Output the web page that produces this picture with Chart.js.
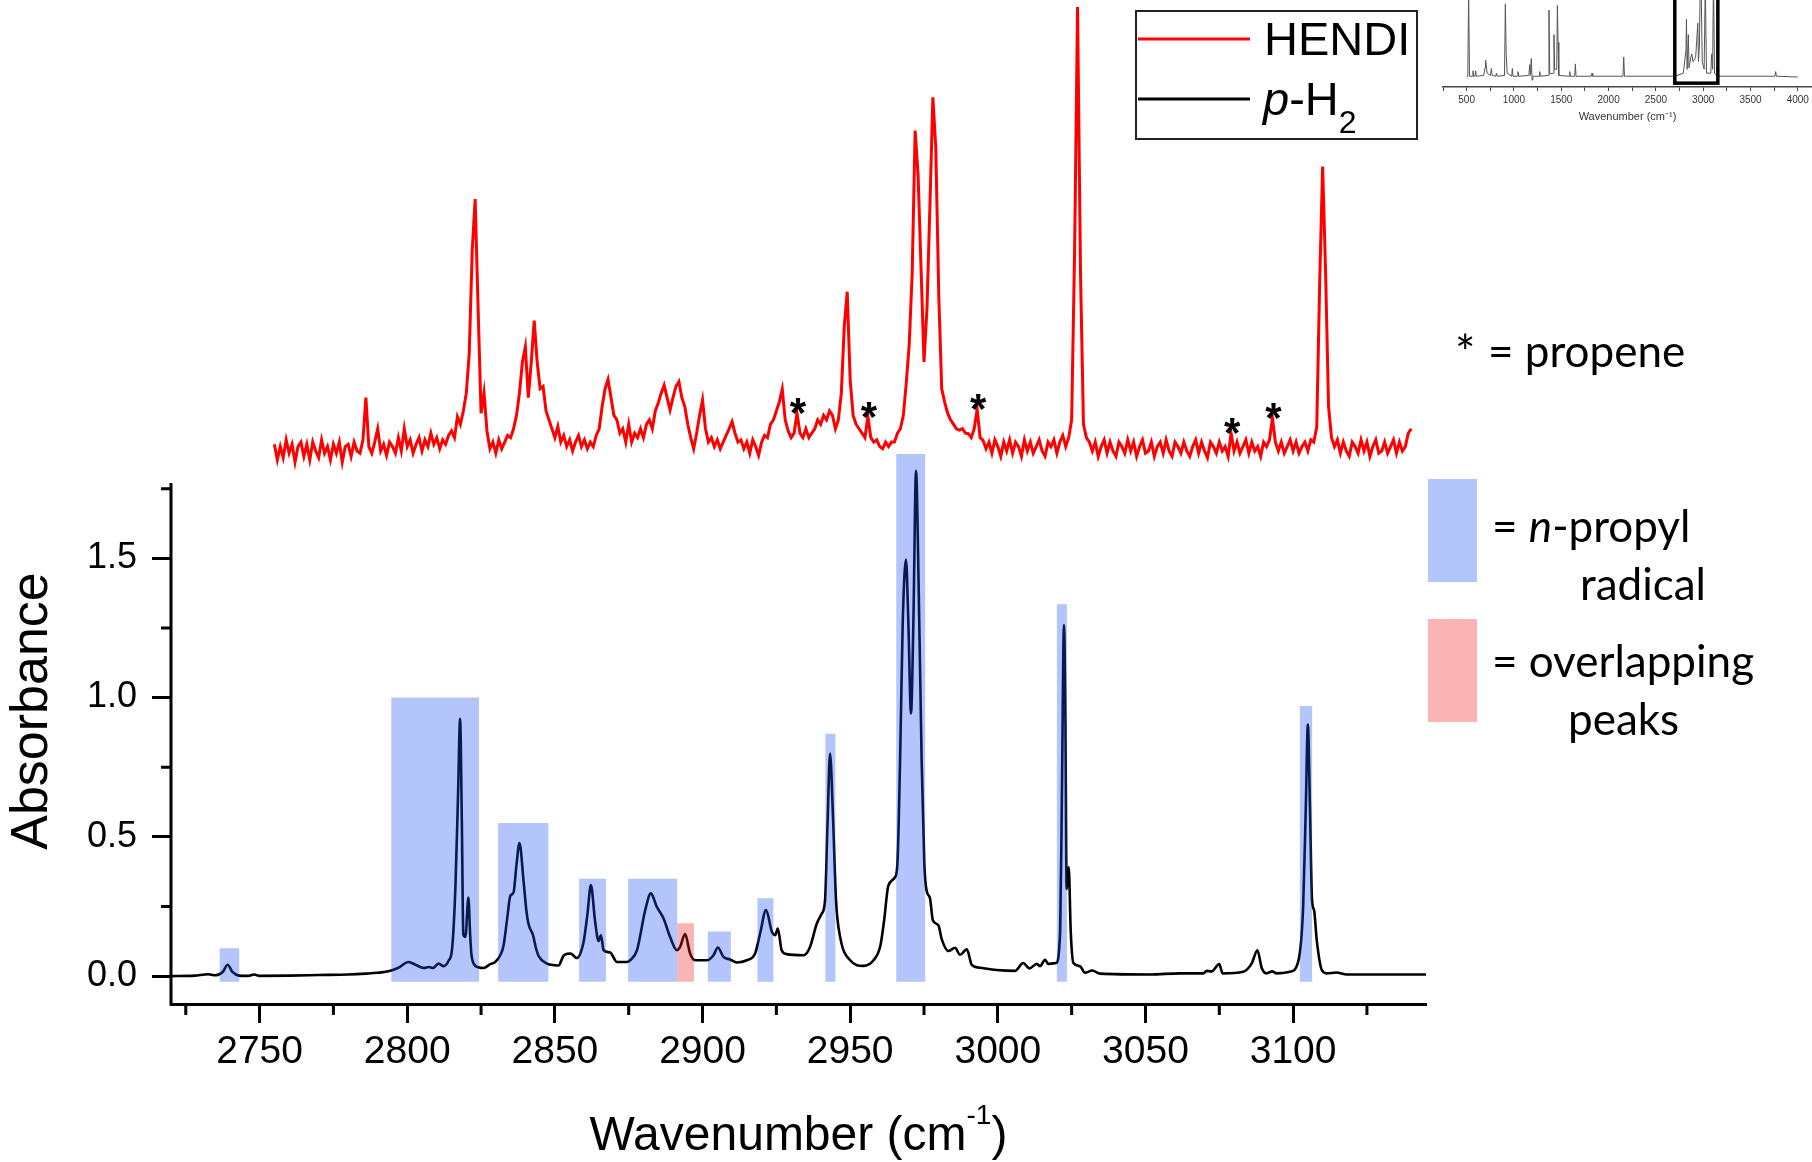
<!DOCTYPE html>
<html>
<head>
<meta charset="utf-8">
<title>n-propyl radical: HENDI vs p-H2</title>
<script src="https://cdn.jsdelivr.net/npm/chart.js@4.4.1/dist/chart.umd.min.js"></script>
<style>
  html, body { margin: 0; padding: 0; background: #fff; }
  #wrap { position: relative; width: 1812px; height: 1162px; overflow: hidden; }
  #chart { position: absolute; left: 0; top: 0; }
  #inset { position: absolute; left: 1420px; top: 0; }
  #notes { position: absolute; left: 0; top: 0; pointer-events: none; }
  .arial { font-family: "Liberation Sans", Arial, sans-serif; }
  .note { font-family: Lato, "Open Sans", sans-serif; }
</style>
</head>
<body>
<div id="wrap">
  <canvas id="chart" width="1812" height="1162"></canvas>
  <canvas id="inset" width="392" height="125"></canvas>
  <svg id="notes" width="1812" height="1162" xmlns="http://www.w3.org/2000/svg">
    <!-- legend -->
    <rect x="1136" y="11" width="281" height="128" fill="none" stroke="#222" stroke-width="2"/>
    <line x1="1138" y1="39" x2="1250" y2="39" stroke="#ff0000" stroke-width="3"/>
    <line x1="1138" y1="99" x2="1250" y2="99" stroke="#000" stroke-width="3"/>
    <text class="arial" x="1264" y="55" font-size="47">HENDI</text>
    <text class="arial" x="1263" y="115" font-size="47"><tspan font-style="italic">p</tspan>-H<tspan font-size="32" dy="18">2</tspan></text>
    <!-- key for the marks -->
    <text class="note" x="1455" y="370" font-size="48">*</text>
    <text class="note" x="1488" y="367" font-size="44">= propene</text>
    <rect x="1428" y="479" width="49" height="103" fill="#b4c5fb"/>
    <text class="note" x="1492" y="542" font-size="44">= <tspan font-style="italic">n</tspan>-propyl</text>
    <text class="note" x="1580" y="600" font-size="44">radical</text>
    <rect x="1428" y="619" width="49" height="103" fill="#fbb4b4"/>
    <text class="note" x="1492" y="677" font-size="44">= overlapping</text>
    <text class="note" x="1568" y="735" font-size="44">peaks</text>
  </svg>
</div>

<script>
// p-H2 matrix spectrum: [wavenumber, absorbance]
const ph2Spectrum = [
  [2720,0.000],[2728,0.002],[2732.6,0.007],[2735,0.003],[2737.5,0.015],[2739.2,0.041],[2740.8,0.015],
  [2743,0.002],[2746,0.001],[2748.2,0.006],[2750,0.001],[2760,0.002],[2770,0.004],[2780,0.006],
  [2786,0.009],[2790,0.012],[2794.3,0.019],[2797,0.030],[2800.4,0.051],[2803,0.040],[2805.7,0.029],
  [2807.3,0.033],[2808.7,0.029],[2810.6,0.045],[2812.3,0.036],[2814,0.055],[2815.2,0.10],
  [2816.3,0.314],[2817.2,0.65],[2817.9,0.924],[2818.5,0.55],[2819,0.149],[2819.7,0.141],
  [2820.7,0.282],[2821.3,0.15],[2821.7,0.083],[2822.5,0.045],[2824.1,0.032],[2825.8,0.029],
  [2828.1,0.043],[2829.8,0.051],[2831.5,0.075],[2832.6,0.109],[2834,0.22],[2834.9,0.288],
  [2836,0.300],[2837,0.40],[2838,0.478],[2839.4,0.341],[2840.3,0.24],[2841.1,0.186],[2842.6,0.147],
  [2843.6,0.10],[2844.5,0.072],[2847.3,0.045],[2850,0.039],[2851.2,0.038],[2852.9,0.073],
  [2854.2,0.080],[2855.4,0.081],[2857.4,0.065],[2859.7,0.122],[2861,0.22],[2862.2,0.327],
  [2863.6,0.198],[2864.8,0.126],[2865.6,0.147],[2866.5,0.093],[2868.7,0.085],[2871,0.051],
  [2874.4,0.051],[2875.5,0.057],[2877.8,0.093],[2880.6,0.237],[2882.5,0.297],[2884.5,0.249],
  [2886.8,0.207],[2889,0.141],[2891.3,0.093],[2892.4,0.105],[2894.1,0.151],[2895.8,0.081],
  [2897.5,0.057],[2901.5,0.057],[2903.7,0.075],[2905.2,0.103],[2907.1,0.069],[2909.3,0.060],
  [2911.6,0.049],[2915,0.057],[2917.8,0.081],[2919.5,0.153],[2921.5,0.237],[2923.5,0.159],
  [2924.6,0.147],[2925.5,0.171],[2926.8,0.093],[2928.5,0.079],[2934.2,0.075],[2936.4,0.105],
  [2938.7,0.189],[2940.4,0.225],[2941.5,0.273],[2942.3,0.536],[2943.2,0.799],[2944.1,0.596],
  [2945.2,0.273],[2946.6,0.141],[2950,0.057],[2954.5,0.037],[2957.9,0.057],[2960.2,0.108],
  [2961.5,0.20],[2962.9,0.324],[2965.2,0.355],[2966,0.405],[2966.9,0.775],[2967.8,1.27],
  [2968.9,1.495],[2969.7,1.27],[2970.6,0.943],[2971.4,1.27],[2972.3,1.814],[2973.2,1.394],
  [2974.2,0.775],[2975.1,0.405],[2975.9,0.306],[2977,0.281],[2978,0.201],[2979.9,0.182],
  [2981,0.133],[2983.3,0.090],[2985.5,0.102],[2987.2,0.077],[2989.5,0.096],[2991.2,0.040],
  [2994,0.030],[2999.6,0.022],[3005.8,0.019],[3008.6,0.047],[3010.7,0.028],[3013.2,0.044],
  [3014.3,0.036],[3016,0.059],[3017.1,0.044],[3019.7,0.047],[3021.1,0.158],[3021.7,0.652],
  [3022.4,1.26],[3022.9,0.899],[3023.3,0.312],[3024,0.392],[3024.7,0.158],[3025.6,0.047],
  [3027.8,0.036],[3029.5,0.012],[3032,0.020],[3034.6,0.009],[3051.5,0.006],[3061.7,0.010],
  [3069.6,0.010],[3070.7,0.019],[3072.4,0.017],[3075,0.043],[3076.1,0.010],[3083.1,0.016],
  [3086,0.046],[3087.9,0.093],[3089.4,0.028],[3091,0.010],[3092.9,0.017],[3094.4,0.010],
  [3099,0.016],[3101.7,0.051],[3103.4,0.249],[3104.3,0.608],[3105,0.903],[3105.7,0.608],
  [3106.4,0.273],[3107.1,0.237],[3108,0.129],[3109.7,0.022],[3111.4,0.010],[3114.7,0.013],
  [3118.1,0.006],[3145,0.006]
];

// HENDI trace, one value per cm-1 starting at 2755 (arb. units, baseline 0, tallest peak 1)
const hendiStart = 2755;
const hendiSignal = [
  0.015,-0.02,0.01,-0.015,0.025,-0.005,0.015,-0.025,0.01,0.02,
  -0.012,0.015,-0.02,0.02,0.00,-0.015,0.025,-0.005,0.01,-0.02,
  0.015,-0.005,0.02,-0.025,0.01,0.015,-0.012,0.02,0.00,-0.005,
  0.025,0.12,0.01,-0.005,0.02,0.05,0.00,0.015,-0.01,0.02,
  0.01,-0.005,0.03,0.00,0.05,0.01,0.025,-0.005,0.015,0.03,
  0.00,0.025,0.01,0.04,0.015,0.03,0.005,0.025,0.015,0.035,
  0.045,0.03,0.077,0.06,0.09,0.13,0.22,0.45,0.566,0.32,
  0.085,0.131,0.045,0.005,0.02,-0.005,0.025,0.005,0.02,0.035,
  0.03,0.05,0.08,0.13,0.20,0.234,0.12,0.20,0.293,0.20,
  0.14,0.145,0.09,0.07,0.05,0.03,0.055,0.02,0.035,0.01,
  0.025,0.00,0.02,0.035,0.01,0.025,0.005,0.02,0.01,0.035,
  0.05,0.10,0.14,0.161,0.12,0.08,0.07,0.04,0.05,0.02,
  0.06,0.02,0.04,0.03,0.05,0.03,0.06,0.07,0.05,0.09,
  0.108,0.13,0.148,0.12,0.092,0.12,0.145,0.156,0.12,0.10,
  0.06,0.03,0.005,0.04,0.08,0.115,0.05,0.02,0.03,0.01,
  0.025,0.005,0.02,0.035,0.05,0.066,0.04,0.02,0.025,0.005,
  0.02,-0.005,0.025,0.01,-0.01,0.02,0.035,0.03,0.06,0.07,
  0.09,0.11,0.139,0.07,0.045,0.03,0.04,0.085,0.04,0.03,
  0.05,0.03,0.04,0.05,0.07,0.06,0.08,0.07,0.09,0.08,
  0.05,0.07,0.13,0.28,0.358,0.16,0.08,0.06,0.05,0.04,
  0.03,0.077,0.03,0.02,0.025,0.01,0.005,0.02,0.01,0.02,
  0.02,0.04,0.05,0.08,0.153,0.24,0.40,0.72,0.62,0.41,
  0.20,0.32,0.55,0.795,0.68,0.35,0.14,0.11,0.085,0.07,
  0.06,0.05,0.047,0.05,0.04,0.039,0.03,0.05,0.094,0.03,
  0.024,0.005,0.02,-0.005,0.025,0.01,-0.012,0.02,0.00,0.025,
  -0.005,0.02,0.01,-0.012,0.025,0.00,0.02,-0.005,0.01,0.025,
  0.00,-0.012,0.02,0.01,0.025,-0.005,0.02,0.035,0.01,0.03,
  0.07,0.45,0.998,0.40,0.06,0.03,0.02,0.00,0.02,-0.012,
  0.01,0.025,-0.005,0.02,0.00,-0.012,0.02,0.01,-0.005,0.025,
  0.00,0.02,-0.012,0.01,0.025,-0.005,0.00,0.02,-0.012,0.01,
  0.02,-0.005,0.025,0.00,-0.012,0.02,0.01,-0.005,0.02,0.00,
  -0.012,0.01,0.025,-0.005,0.02,0.00,-0.015,0.02,0.01,-0.005,
  0.02,0.00,0.01,-0.012,0.040,0.00,0.02,-0.005,0.01,0.025,
  -0.005,0.02,0.00,0.01,-0.012,0.02,0.01,0.025,0.074,0.02,
  0.00,0.02,-0.005,0.01,0.025,0.00,0.02,-0.005,0.01,0.02,
  0.00,0.025,0.02,0.054,0.38,0.639,0.40,0.10,0.03,0.01,
  0.025,-0.005,0.02,0.00,-0.012,0.02,0.01,-0.005,0.025,0.00,
  0.02,-0.012,0.01,0.025,-0.005,0.00,0.02,-0.005,0.01,0.025,
  -0.005,0.02,0.00,0.01,0.04,0.05
];

// shaded bands: [from, to, top absorbance]
const propylBands = [
  [2736.4,2743.1,0.10],[2794.6,2824.3,1.00],[2830.8,2847.8,0.55],[2858.2,2867.3,0.35],
  [2874.8,2891.4,0.35],[2901.8,2909.6,0.16],[2918.6,2924.0,0.28],[2941.6,2945.0,0.87],
  [2965.6,2975.4,1.874],[3020.0,3023.4,1.335],[3102.3,3106.5,0.97]
];
const overlapBands = [[2891.4,2897.1,0.19]];
const bandBase = -0.02;

// propene lines marked with * on the HENDI trace
const propeneLines = [2932, 2956, 2993, 3079, 3093];

// ticks
const wavenumberLabels = [2750, 2800, 2850, 2900, 2950, 3000, 3050, 3100];
const wavenumberMinor = [2725, 2775, 2825, 2875, 2925, 2975, 3025, 3075, 3125];
const absorbanceLabels = [0, 0.5, 1.0, 1.5];
const absorbanceMinor = [0.25, 0.75, 1.25, 1.75];

// survey spectrum in the corner: [wavenumber, relative intensity]
const insetSpectrum = [
  [500,0],[512,0.01],[521,1.1],[530,0.01],[560,0.01],[567,0.08],[574,0.01],[588,0.01],[595,0.08],
  [602,0.01],[680,0.02],[694,0.12],[700,0.22],[708,0.15],[716,0.05],[752,0.02],[761,0.11],[770,0.02],
  [808,0.01],[814,0.05],[822,0.01],[900,0.02],[909,0.95],[918,0.30],[928,0.05],[976,0.01],[983,0.11],
  [990,0.01],[1036,0.01],[1042,0.07],[1050,0.01],[1158,0.02],[1166,0.16],[1174,0.02],[1183,0.24],
  [1192,-0.04],[1200,0.01],[1266,0.01],[1272,0.07],[1280,0.01],[1362,0.02],[1370,0.87],[1378,0.04],
  [1416,0.05],[1423,0.55],[1430,0.10],[1452,0.10],[1459,0.93],[1466,0.45],[1474,0.02],[1582,0.01],
  [1589,0.07],[1596,0.01],[1642,0.01],[1649,0.17],[1656,0.01],[1818,0.01],[1825,0.05],[1832,0.01],
  [2152,0.01],[2160,0.26],[2168,0.01],[2700,0.01],[2790,0.05],[2818,0.35],[2823,0.75],[2830,0.10],
  [2843,0.55],[2850,0.12],[2868,0.25],[2880,0.30],[2892,0.20],[2920,0.25],[2943,0.70],[2950,0.20],
  [2960,0.40],[2969,1.2],[2972,1.2],[2978,1.2],[2990,0.20],[3010,0.10],[3022,1.2],[3027,1.2],
  [3035,0.05],[3080,0.05],[3090,0.30],[3100,0.10],[3106,1.0],[3110,1.2],[3120,0.05],[3150,0.01],
  [3758,0.01],[3766,0.07],[3774,0.01],[4000,0]
];
const insetLabels = [500, 1000, 1500, 2000, 2500, 3000, 3500, 4000];
const insetWindow = [2700, 3155];

const FONT = '"Liberation Sans", Arial, sans-serif';
const absMin = -0.1;
const absAxisTop = 1.77;
const absViewMax = 3.504;   // plot area runs to the top of the page so the HENDI trace fits above
const hendiMin = -1.2427;
const hendiMax = 1.0135;

Chart.defaults.font.family = FONT;
Chart.defaults.color = '#000';

function bandOutline(bands) {
  const pts = [];
  bands.forEach(([from, to, top]) => {
    pts.push({x: from, y: bandBase}, {x: from, y: top}, {x: to, y: top}, {x: to, y: bandBase});
  });
  return pts;
}

const toTicks = (...lists) => [].concat(...lists).sort((a, b) => a - b).map(value => ({value}));

// fixed box sizes; no extra room reserved for the end labels
function pinScale(s, size) {
  if (s.isHorizontal()) s.height = size; else s.width = size;
  s.paddingTop = 0; s.paddingBottom = 0; s.paddingLeft = 0; s.paddingRight = 0;
}

const axisDecor = {
  id: 'axisDecor',
  afterDraw(chart) {
    const {ctx, chartArea, scales: {x, y}} = chart;
    ctx.save();
    ctx.strokeStyle = '#000';
    ctx.lineWidth = 3;
    ctx.beginPath();
    ctx.moveTo(chartArea.left, chartArea.bottom + 1.5);
    ctx.lineTo(chartArea.left, y.getPixelForValue(absAxisTop));
    wavenumberMinor.forEach(v => {
      const px = x.getPixelForValue(v);
      ctx.moveTo(px, chartArea.bottom);
      ctx.lineTo(px, chartArea.bottom + 11);
    });
    absorbanceMinor.forEach(v => {
      const py = y.getPixelForValue(v);
      ctx.moveTo(chartArea.left - 10, py);
      ctx.lineTo(chartArea.left, py);
    });
    ctx.stroke();

    // axis titles
    ctx.fillStyle = '#000';
    ctx.textBaseline = 'alphabetic';
    const parts = [['Wavenumber (cm', '48px ' + FONT, 0], ['-1', '28px ' + FONT, -26], [')', '48px ' + FONT, 0]];
    let total = 0;
    parts.forEach(p => { ctx.font = p[1]; p.push(ctx.measureText(p[0]).width); total += p[3]; });
    let cx = (chartArea.left + chartArea.right) / 2 - total / 2;
    const baseY = chartArea.bottom + 146;
    parts.forEach(p => { ctx.font = p[1]; ctx.fillText(p[0], cx, baseY + p[2]); cx += p[3]; });

    ctx.translate(33, 711);
    ctx.rotate(-Math.PI / 2);
    ctx.font = '52px ' + FONT;
    ctx.textAlign = 'center';
    ctx.textBaseline = 'middle';
    ctx.fillText('Absorbance', 0, 0);
    ctx.restore();
  }
};

const propeneMarks = {
  id: 'propeneMarks',
  afterDatasetsDraw(chart) {
    const {ctx, scales: {x, hendi}} = chart;
    ctx.save();
    ctx.font = 'bold 42px ' + FONT;
    ctx.textAlign = 'center';
    ctx.fillStyle = '#000';
    propeneLines.forEach(w => {
      const peak = hendiSignal[w - hendiStart];
      ctx.fillText('*', x.getPixelForValue(w) + 1, hendi.getPixelForValue(peak) + 14);
    });
    ctx.restore();
  }
};

new Chart(document.getElementById('chart'), {
  type: 'line',
  data: {
    datasets: [
      {
        label: 'n-propyl radical',
        data: bandOutline(propylBands),
        fill: {value: bandBase},
        backgroundColor: 'rgba(28, 78, 242, 0.33)',
        borderColor: 'transparent',
        borderWidth: 0,
        pointRadius: 0,
        order: 0
      },
      {
        label: 'overlapping peaks',
        data: bandOutline(overlapBands),
        fill: {value: bandBase},
        backgroundColor: 'rgba(242, 28, 28, 0.33)',
        borderColor: 'transparent',
        borderWidth: 0,
        pointRadius: 0,
        order: 0
      },
      {
        label: 'p-H2',
        data: ph2Spectrum.map(([x, y]) => ({x, y})),
        borderColor: '#000',
        borderWidth: 2.6,
        pointRadius: 0,
        cubicInterpolationMode: 'monotone',
        fill: false,
        order: 1
      },
      {
        label: 'HENDI',
        data: hendiSignal.map((v, i) => ({x: hendiStart + i, y: v})),
        yAxisID: 'hendi',
        borderColor: '#ff0000',
        borderWidth: 3,
        pointRadius: 0,
        fill: false,
        order: 1
      }
    ]
  },
  options: {
    responsive: false,
    animation: false,
    devicePixelRatio: 1,
    layout: {autoPadding: false, padding: {top: 0, right: 386, bottom: 0, left: 0}},
    plugins: {legend: {display: false}, tooltip: {enabled: false}},
    scales: {
      x: {
        type: 'linear',
        min: 2720,
        max: 3145,
        afterBuildTicks: s => { s.ticks = toTicks(wavenumberLabels); },
        afterFit: s => pinScale(s, 158),
        border: {display: true, color: '#000', width: 3},
        grid: {drawOnChartArea: false, tickLength: 19, tickWidth: 3, tickColor: '#000'},
        ticks: {
          autoSkip: false,
          maxRotation: 0,
          padding: 6,
          font: {size: 39},
          callback: v => String(v)
        }
      },
      y: {
        type: 'linear',
        min: absMin,
        max: absViewMax,
        afterBuildTicks: s => { s.ticks = toTicks(absorbanceLabels); },
        afterFit: s => pinScale(s, 171),
        border: {display: false},
        grid: {drawOnChartArea: false, tickLength: 19, tickWidth: 3, tickColor: '#000'},
        ticks: {
          autoSkip: false,
          padding: 15,
          font: {size: 36},
          callback: v => v.toFixed(1)
        }
      },
      hendi: {
        type: 'linear',
        display: false,
        min: hendiMin,
        max: hendiMax
      }
    }
  },
  plugins: [axisDecor, propeneMarks]
});

const insetWindowBox = {
  id: 'insetWindowBox',
  afterDatasetsDraw(chart) {
    const {ctx, scales: {x, y}} = chart;
    const x1 = x.getPixelForValue(insetWindow[0]);
    const x2 = x.getPixelForValue(insetWindow[1]);
    const yb = y.getPixelForValue(-0.08);
    ctx.save();
    ctx.strokeStyle = '#000';
    ctx.lineWidth = 3.5;
    ctx.strokeRect(x1, -5, x2 - x1, yb + 5);
    ctx.restore();
  }
};

new Chart(document.getElementById('inset'), {
  type: 'line',
  data: {
    datasets: [{
      data: insetSpectrum.map(([x, y]) => ({x, y})),
      borderColor: '#555',
      borderWidth: 1,
      pointRadius: 0,
      fill: false
    }]
  },
  options: {
    responsive: false,
    animation: false,
    devicePixelRatio: 1,
    layout: {autoPadding: false, padding: {left: 23, right: 0, top: 0, bottom: 0}},
    plugins: {legend: {display: false}, tooltip: {enabled: false}},
    scales: {
      x: {
        type: 'linear',
        min: 250,
        max: 4150,
        afterFit: s => pinScale(s, 38),
        border: {display: true, color: '#444', width: 1.5},
        grid: {drawOnChartArea: false, tickLength: 4, tickColor: '#444'},
        ticks: {
          stepSize: 250,
          includeBounds: false,
          autoSkip: false,
          maxRotation: 0,
          padding: 3,
          color: '#333',
          font: {size: 10},
          callback: v => insetLabels.includes(v) ? String(v) : ''
        },
        title: {
          display: true,
          text: 'Wavenumber (cm\u207B\u00B9)',
          color: '#333',
          font: {size: 11},
          padding: {top: 0, bottom: 1}
        }
      },
      y: {type: 'linear', display: false, min: -0.13, max: 1.0}
    }
  },
  plugins: [insetWindowBox]
});
</script>
</body>
</html>
